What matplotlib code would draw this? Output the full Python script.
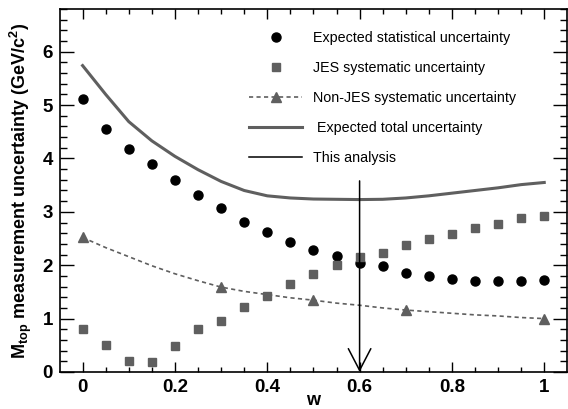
import numpy as np
import matplotlib
matplotlib.use('Agg')
import matplotlib.pyplot as plt
from matplotlib.ticker import MultipleLocator

plt.rcParams['font.family'] = ['Liberation Sans', 'DejaVu Sans']
plt.rcParams['mathtext.fontset'] = 'custom'
plt.rcParams['mathtext.rm'] = 'Liberation Sans:bold'
plt.rcParams['mathtext.bf'] = 'Liberation Sans:bold'

GRAY = '#5f5f5f'

# statistical and JES uncertainty, w in steps of 0.05
w = [0.0, 0.05, 0.1, 0.15, 0.2, 0.25, 0.3, 0.35, 0.4, 0.45, 0.5,
     0.55, 0.6, 0.65, 0.7, 0.75, 0.8, 0.85, 0.9, 0.95, 1.0]
stat = [5.11, 4.56, 4.18, 3.90, 3.60, 3.32, 3.07, 2.81, 2.62, 2.44, 2.29,
        2.17, 2.05, 1.98, 1.86, 1.79, 1.75, 1.71, 1.71, 1.71, 1.72]
jes = [0.80, 0.51, 0.20, 0.18, 0.48, 0.80, 0.95, 1.22, 1.43, 1.65, 1.84,
       2.00, 2.15, 2.23, 2.38, 2.49, 2.58, 2.70, 2.78, 2.88, 2.93]

# non-JES: points and the curve through them
w_nonjes = [0.0, 0.3, 0.5, 0.7, 1.0]
nonjes = [2.52, 1.59, 1.345, 1.16, 1.0]
w_curve = [0.0, 0.05, 0.1, 0.15, 0.2, 0.25, 0.3, 0.35, 0.4, 0.45, 0.5,
           0.55, 0.6, 0.65, 0.7, 0.75, 0.8, 0.85, 0.9, 0.95, 1.0]
nonjes_curve = [2.52, 2.33, 2.16, 1.99, 1.84, 1.71, 1.59, 1.51, 1.45, 1.39, 1.345,
                1.29, 1.25, 1.20, 1.16, 1.13, 1.10, 1.07, 1.05, 1.02, 1.0]

# expected total uncertainty
total = [5.74, 5.20, 4.69, 4.33, 4.04, 3.79, 3.57, 3.40, 3.30, 3.26, 3.24,
         3.235, 3.23, 3.235, 3.26, 3.30, 3.35, 3.40, 3.45, 3.51, 3.55]

w_this = 0.6
arrow_top = 3.58

fig = plt.figure(figsize=(5.68, 4.09), dpi=100)
ax = fig.add_axes([0.1056, 0.0905, 0.8924, 0.8875])

dash = (0, (2.5, 2))
ax.plot(w_curve, nonjes_curve, color=GRAY, lw=1.2, ls=dash, zorder=2)
ax.plot(w, total, color=GRAY, lw=2.2, zorder=3)
ax.plot(w, stat, 'o', color='black', ms=6.5, zorder=4)
ax.plot(w, jes, 's', color=GRAY, ms=5.5, zorder=4)
ax.plot(w_nonjes, nonjes, '^', color=GRAY, ms=7.5, zorder=4)

ax.annotate('', xy=(w_this, 0), xytext=(w_this, arrow_top),
            arrowprops=dict(arrowstyle='->,head_length=1.56,head_width=0.81',
                            lw=1.1, color='black', shrinkA=0, shrinkB=0,
                            mutation_scale=10), zorder=5)

# legend
h1, = ax.plot([], [], 'o', color='black', ms=6.5)
h2, = ax.plot([], [], 's', color=GRAY, ms=5.5)
h3, = ax.plot([], [], color=GRAY, lw=1.2, ls=dash, marker='^', ms=7.5)
h4, = ax.plot([], [], color=GRAY, lw=2.2)
h5, = ax.plot([], [], color='black', lw=1.1)
leg = ax.legend([h1, h2, h3, h4, h5],
                ['Expected statistical uncertainty', 'JES systematic uncertainty',
                 'Non-JES systematic uncertainty', ' Expected total uncertainty',
                 'This analysis'],
                loc='upper left', bbox_to_anchor=(0.373, 0.94), frameon=False,
                fontsize=10.3, handlelength=3.7, handletextpad=0.77,
                labelspacing=1.12, borderpad=0, borderaxespad=0, markerscale=1)

ax.set_xlim(-0.049, 1.049)
ax.set_ylim(0, 6.8)
ax.xaxis.set_major_locator(MultipleLocator(0.2))
ax.xaxis.set_minor_locator(MultipleLocator(0.05))
ax.yaxis.set_major_locator(MultipleLocator(1))
ax.yaxis.set_minor_locator(MultipleLocator(0.2))
ax.set_xticks([0, 0.2, 0.4, 0.6, 0.8, 1.0], ['0', '0.2', '0.4', '0.6', '0.8', '1'])

ax.tick_params(which='both', direction='in', top=True, right=True, width=1.0)
ax.tick_params(axis='x', which='major', length=7.2)
ax.tick_params(axis='x', which='minor', length=3.6)
ax.tick_params(axis='y', which='major', length=10)
ax.tick_params(axis='y', which='minor', length=5)
ax.tick_params(which='major', labelsize=13.5, pad=5)
for lab in ax.get_xticklabels() + ax.get_yticklabels():
    lab.set_fontweight('bold')
for s in ax.spines.values():
    s.set_linewidth(1.2)

ax.set_xlabel('w', fontsize=13, fontweight='bold', labelpad=-3)
ax.set_ylabel(r'M$_{\mathbf{top}}$ measurement uncertainty (GeV/c$^{\mathbf{2}}$)',
              fontsize=13, fontweight='bold', labelpad=6)

fig.savefig('out.png', dpi=100)
